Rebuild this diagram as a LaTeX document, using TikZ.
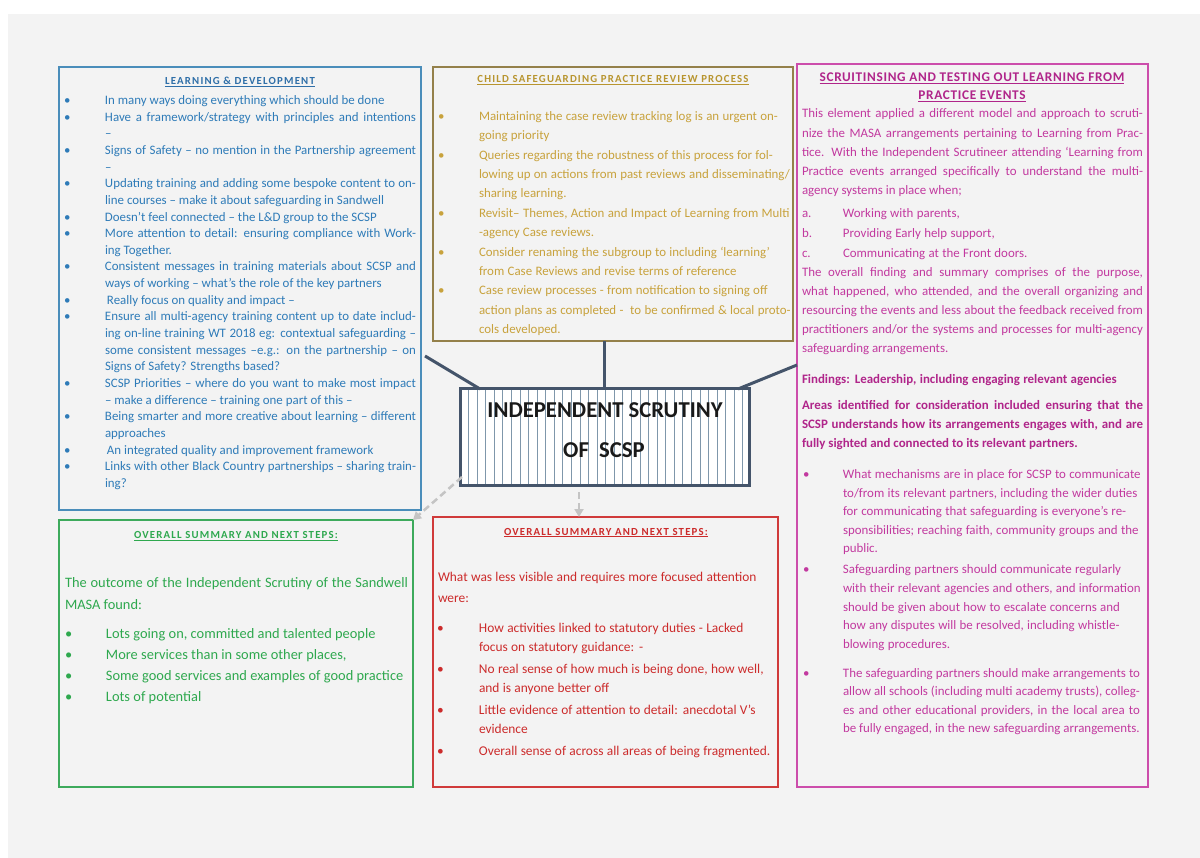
\documentclass[tikz,border=0pt]{standalone}
\usepackage{fontspec}
\setmainfont{Carlito}
\newfontfamily\tfont[LetterSpace=11]{Carlito}
\newfontfamily\tfontb[LetterSpace=5]{Carlito}
\usetikzlibrary{arrows.meta}
\definecolor{bggray}{HTML}{F3F3F3}
\definecolor{ldborder}{HTML}{4A8DBA}
\definecolor{ldtext}{HTML}{2E7BB8}
\definecolor{ldtitle}{HTML}{2F6FA8}
\definecolor{gdborder}{HTML}{94804A}
\definecolor{gdtext}{HTML}{C8A23C}
\definecolor{gdtitle}{HTML}{B8952F}
\definecolor{mgborder}{HTML}{CC4DAB}
\definecolor{mgtext}{HTML}{C2399F}
\definecolor{mgbold}{HTML}{B0258A}
\definecolor{grborder}{HTML}{3DAA5C}
\definecolor{grtext}{HTML}{2EA84E}
\definecolor{rdborder}{HTML}{D03A3A}
\definecolor{rdtext}{HTML}{CC2B2B}
\definecolor{coreline}{HTML}{44546A}
\definecolor{stripecol}{HTML}{7F97AB}
\definecolor{arrgray}{HTML}{C4C4C4}
% first item of a list: no \par (the node has already begun its paragraph)
\newcommand\fitem[2]{\hangindent=#1\hangafter=1\makebox[#1][l]{\textbullet}#2}
\newcommand\bitem[2]{\par\hangindent=#1\hangafter=1\noindent\makebox[#1][l]{\textbullet}#2}
\newcommand\flitem[3]{\hangindent=#1\hangafter=1\makebox[#1][l]{#2}#3}
\newcommand\litem[3]{\par\hangindent=#1\hangafter=1\noindent\makebox[#1][l]{#2}#3}
\newcommand\fs[2]{\fontsize{#1}{#2}\selectfont\hyphenpenalty=10000 \exhyphenpenalty=10000 }
\newcommand\st{\rule{0pt}{12pt}}
\tikzset{
 frame/.style={draw, line width=1.8pt, inner sep=0pt, outer sep=0pt},
 tx/.style={inner sep=0pt, outer sep=0pt, anchor=north west, align=justify},
 txr/.style={inner sep=0pt, outer sep=0pt, anchor=north west, align=left},
 ttl/.style={inner sep=0pt, anchor=base, font=\tfont\bfseries\fontsize{10.8}{12}\selectfont},
 ttlb/.style={inner sep=0pt, anchor=base, font=\tfontb\bfseries\fontsize{13.3}{15}\selectfont},
 conn/.style={draw=coreline, line width=3pt},
 dasharr/.style={draw=arrgray, line width=2.5pt, dash pattern=on 7pt off 4pt, -{Triangle[length=8pt,width=9pt]}},
 stripe/.style={draw=stripecol, line width=0.9pt},
 coretxt/.style={inner sep=0pt, anchor=base, font=\bfseries\fontsize{22.7}{26}\selectfont, text=black!90},
}
\begin{document}
\begin{tikzpicture}[x=1pt,y=-1pt]
\useasboundingbox[fill=white] (0,0) rectangle (1200,858);
\fill[bggray] (8,14) rectangle (1200,858);

% frames
\node[frame, draw=ldborder, minimum width=362pt, minimum height=443pt] (lnd) at (240,288.5) {};
\node[frame, draw=gdborder, minimum width=360pt, minimum height=274pt] (cspr) at (613,204) {};
\node[frame, draw=mgborder, minimum width=351pt, minimum height=723pt] (scr) at (972.5,425.5) {};
\node[frame, draw=grborder, minimum width=354pt, minimum height=267pt] (green) at (236,653.5) {};
\node[frame, draw=rdborder, minimum width=345pt, minimum height=270pt] (red) at (605.5,652) {};
\node[draw=coreline, line width=3pt, fill=white, inner sep=0pt, outer sep=0pt,
  minimum width=289pt, minimum height=97pt,
  path picture={\foreach \k in {1,...,33}{\draw[stripe] ([xshift=\k*8.57pt]path picture bounding box.south west) -- ([xshift=\k*8.57pt]path picture bounding box.north west);}}]
  (core) at (604.5,437.5) {};
\node[coretxt] (core1) at (605,417.5) {INDEPENDENT SCRUTINY};
\node[coretxt] (core2) at (604,457.5) {OF~~SCSP};

% connectors
\draw[conn] ([xshift=4pt,yshift=-67.5pt]lnd.east) -- ([xshift=20pt]core.north west);
\draw[conn] (core.north) -- (core.north |- cspr.south);
\draw[conn] ([yshift=60.5pt]scr.west) -- ([xshift=-11pt]core.north east);
\draw[dasharr] ([xshift=2pt,yshift=9pt]core.south west) -- (green.north east);
\coordinate (a5) at ([xshift=-25.5pt]core.south);
\draw[dasharr] ([yshift=-6pt]a5) -- (a5 |- red.north);

% Learning & Development
\node[ttl, text=ldtitle] (ldt) at (240,84.5) {\underline{LEARNING \& DEVELOPMENT}};
\node[tx, text width=352pt, text=ldtext] (ldlist) at (64,104.5-12) {\fs{12.9}{16.65}%
\fitem{41pt}{\st In many ways doing everything which should be done}
\bitem{41pt}{Have a framework/strategy with principles and intentions\linebreak –}
\bitem{41pt}{Signs of Safety – no mention in the Partnership agreement\linebreak –}
\bitem{41pt}{Updating training and adding some bespoke content to on-\linebreak line courses – make it about safeguarding in Sandwell}
\bitem{41pt}{Doesn’t feel connected – the L\&D group to the SCSP}
\bitem{41pt}{More attention to detail: ensuring compliance with Work-\linebreak ing Together.}
\bitem{41pt}{Consistent messages in training materials about SCSP and\linebreak ways of working – what’s the role of the key partners}
\bitem{41pt}{\hspace{2pt}Really focus on quality and impact –}
\bitem{41pt}{Ensure all multi-agency training content up to date includ-\linebreak ing on-line training WT 2018 eg: contextual safeguarding –\linebreak some consistent messages –e.g.: on the partnership – on\linebreak Signs of Safety? Strengths based?}
\bitem{41pt}{SCSP Priorities – where do you want to make most impact\linebreak – make a difference – training one part of this –}
\bitem{41pt}{Being smarter and more creative about learning – different\linebreak approaches}
\bitem{41pt}{\hspace{2pt}An integrated quality and improvement framework}
\bitem{41pt}{Links with other Black Country partnerships – sharing train-\linebreak ing?}\par};

% Child safeguarding practice review
\node[ttl, text=gdtitle] (gdt) at (613,82.5) {\underline{CHILD SAFEGUARDING PRACTICE REVIEW PROCESS}};
\node[txr, text width=354pt, text=gdtext] (gdlist) at (438,120.5-12) {\fs{12.9}{19.36}%
\fitem{41pt}{\st Maintaining the case review tracking log is an urgent on-\newline going priority}
\bitem{41pt}{Queries regarding the robustness of this process for fol-\newline lowing up on actions from past reviews and disseminating/\newline sharing learning.}
\bitem{41pt}{Revisit– Themes, Action and Impact of Learning from Multi\newline -agency Case reviews.}
\bitem{41pt}{Consider renaming the subgroup to including ‘learning’\newline from Case Reviews and revise terms of reference}
\bitem{41pt}{Case review processes - from notification to signing off\newline action plans as completed -~ to be confirmed \& local proto-\newline cols developed.}\par};

% Scrutinising box
\node[ttlb, text=mgbold] (mgt1) at (972,81.5) {\underline{SCRUITINSING AND TESTING OUT LEARNING FROM}};
\node[ttlb, text=mgbold] (mgt2) at (972,99.5) {\underline{PRACTICE EVENTS}};
\node[tx, text width=341pt, text=mgtext] (mgp1) at (802,118-12) {\fs{12.9}{19.2}\st This element applied a different model and approach to scruti-\linebreak nize the MASA arrangements pertaining to Learning from Prac-\linebreak tice. With the Independent Scrutineer attending ‘Learning from\linebreak Practice events arranged specifically to understand the multi-\linebreak agency systems in place when;\par};
\node[txr, text width=341pt, text=mgtext] (mgabc) at (802,218-12) {\fs{12.9}{20}%
\flitem{41pt}{a.}{\st Working with parents,}
\litem{41pt}{b.}{Providing Early help support,}
\litem{41pt}{c.}{Communicating at the Front doors.}\par};
\node[tx, text width=341pt, text=mgtext] (mgp2) at (802,277-12) {\fs{12.9}{19}\st The overall finding and summary comprises of the purpose,\linebreak what happened, who attended, and the overall organizing and\linebreak resourcing the events and less about the feedback received from\linebreak practitioners and/or the systems and processes for multi-agency\linebreak safeguarding arrangements.\par};
\node[txr, text width=341pt, text=mgbold] (mgf) at (802,384-12) {\fs{12.9}{19}\bfseries\st Findings: Leadership, including engaging relevant agencies\par};
\node[tx, text width=341pt, text=mgbold] (mgareas) at (802,410-12) {\fs{12.9}{19}\bfseries\st Areas identified for consideration included ensuring that the\linebreak SCSP understands how its arrangements engages with, and are\linebreak fully sighted and connected to its relevant partners.\par};
\node[txr, text width=344pt, text=mgtext] (mgb1) at (803,478.5-12) {\fs{12.9}{18.6}%
\fitem{40pt}{\st What mechanisms are in place for SCSP to communicate\newline to/from its relevant partners, including the wider duties\newline for communicating that safeguarding is everyone’s re-\newline sponsibilities; reaching faith, community groups and the\newline public.}\par};
\node[txr, text width=344pt, text=mgtext] (mgb2) at (803,573.5-12) {\fs{12.9}{18.75}%
\fitem{40pt}{\st Safeguarding partners should communicate regularly\newline with their relevant agencies and others, and information\newline should be given about how to escalate concerns and\newline how any disputes will be resolved, including whistle-\newline blowing procedures.}\par};
\node[tx, text width=337pt, text=mgtext] (mgb3) at (803,677.5-12) {\fs{12.9}{18.4}%
\fitem{40pt}{\st The safeguarding partners should make arrangements to\linebreak allow all schools (including multi academy trusts), colleg-\linebreak es and other educational providers, in the local area to\linebreak be fully engaged, in the new safeguarding arrangements.}\par};

% Green summary
\node[ttl, text=grtext] (grt) at (236,538.5) {\underline{OVERALL SUMMARY AND NEXT STEPS:}};
\node[tx, text width=343pt, text=grtext] (grp) at (65,587-12) {\fs{14.4}{22}\st The outcome of the Independent Scrutiny of the Sandwell\linebreak MASA found:\par};
\node[txr, text width=343pt, text=grtext] (grlist) at (65,638-12) {\fs{14.4}{21.3}%
\fitem{41pt}{\st Lots going on, committed and talented people}
\bitem{41pt}{More services than in some other places,}
\bitem{41pt}{Some good services and examples of good practice}
\bitem{41pt}{Lots of potential}\par};

% Red summary
\node[ttl, text=rdtext] (rdt) at (606,535) {\underline{OVERALL SUMMARY AND NEXT STEPS:}};
\node[txr, text width=340pt, text=rdtext] (rdp) at (438,581-12) {\fs{13.4}{21}\st What was less visible and requires more focused attention\newline were:\par};
\node[txr, text width=340pt, text=rdtext] (rdb1) at (437,632-12) {\fs{13.4}{19.5}\fitem{42pt}{\st How activities linked to statutory duties - Lacked\newline focus on statutory guidance: -}\par};
\node[txr, text width=340pt, text=rdtext] (rdb2) at (437,673.5-12) {\fs{13.4}{18.5}\fitem{42pt}{\st No real sense of how much is being done, how well,\newline and is anyone better off}\par};
\node[txr, text width=340pt, text=rdtext] (rdb3) at (437,714-12) {\fs{13.4}{19.5}\fitem{42pt}{\st Little evidence of attention to detail: anecdotal V’s\newline evidence}\par};
\node[txr, text width=340pt, text=rdtext] (rdb4) at (437,755-12) {\fs{13.4}{19.5}\fitem{42pt}{\st Overall sense of across all areas of being fragmented.}\par};
\end{tikzpicture}
\end{document}
